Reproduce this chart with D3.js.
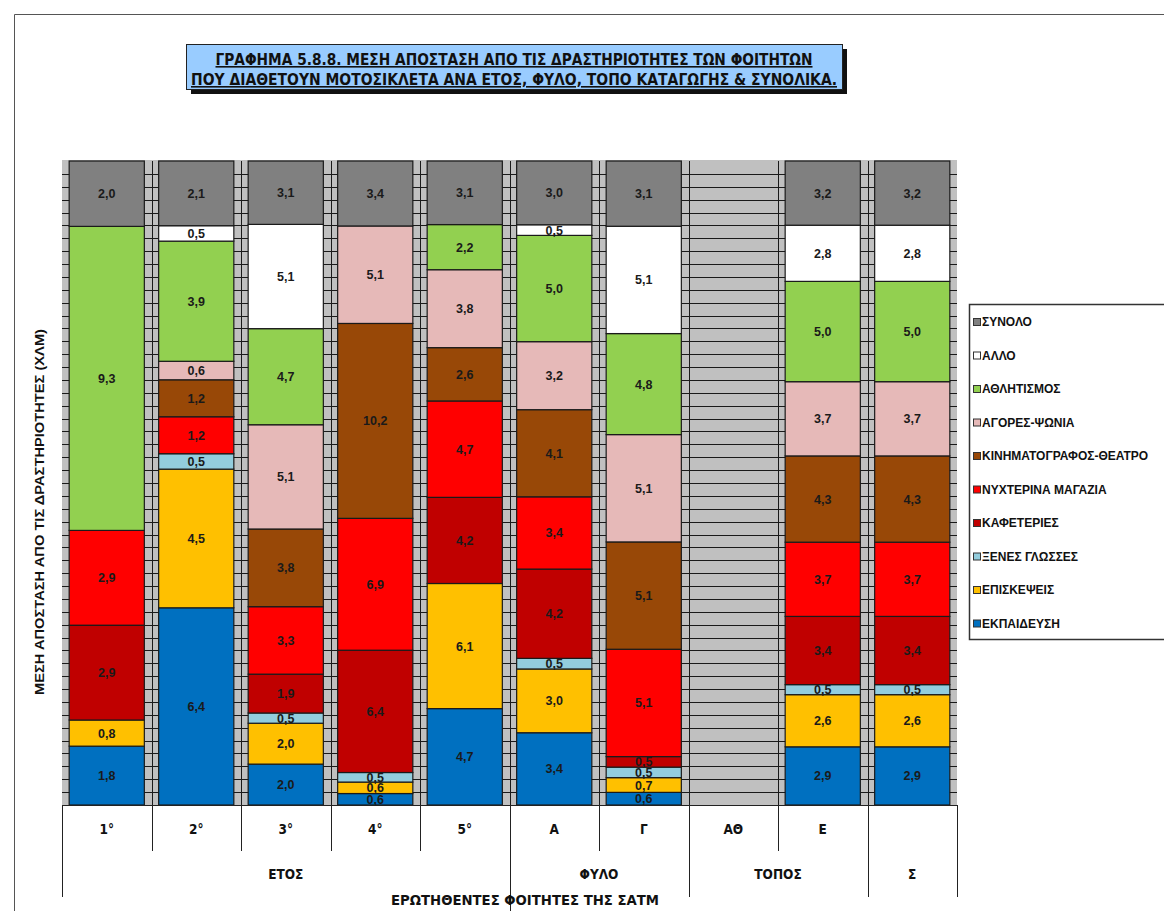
<!DOCTYPE html>
<html>
<head>
<meta charset="utf-8">
<script src="https://cdn.jsdelivr.net/npm/d3@7/dist/d3.min.js"></script>
<style>
  body { margin: 0; background: #fff; }
  svg { display: block; }
  text { font-family: "Liberation Sans", Arial, sans-serif; }
  .narrow { font-family: "Liberation Sans Narrow", "DejaVu Sans Condensed", "Liberation Sans", sans-serif; }
</style>
</head>
<body>
<svg id="chart" width="1164" height="911"></svg>
<script>
// categories along the x axis (the last one, the total, has no first-row label)
var categories = ["1°", "2°", "3°", "4°", "5°", "Α", "Γ", "ΑΘ", "Ε", ""]
var groupNames = ["ΕΤΟΣ", "ΦΥΛΟ", "ΤΟΠΟΣ", "Σ"]
var groupSizes = [5, 2, 2, 1]

// series, bottom of the stack first
var seriesNames = ["ΕΚΠΑΙΔΕΥΣΗ", "ΕΠΙΣΚΕΨΕΙΣ", "ΞΕΝΕΣ ΓΛΩΣΣΕΣ", "ΚΑΦΕΤΕΡΙΕΣ",
  "ΝΥΧΤΕΡΙΝΑ ΜΑΓΑΖΙΑ", "ΚΙΝΗΜΑΤΟΓΡΑΦΟΣ-ΘΕΑΤΡΟ", "ΑΓΟΡΕΣ-ΨΩΝΙΑ", "ΑΘΛΗΤΙΣΜΟΣ", "ΑΛΛΟ", "ΣΥΝΟΛΟ"]
var seriesColors = ["#0070C0", "#FFC000", "#93CDDD", "#C00000",
  "#FF0000", "#984807", "#E6B9B8", "#92D050", "#FFFFFF", "#808080"]

// mean distance (km), one value per category
var ekpaideusi     = [1.8, 6.4, 2.0, 0.6, 4.7, 3.4, 0.6, 0, 2.9, 2.9]
var episkepseis    = [0.8, 4.5, 2.0, 0.6, 6.1, 3.0, 0.7, 0, 2.6, 2.6]
var xenesGlosses   = [0, 0.5, 0.5, 0.5, 0, 0.5, 0.5, 0, 0.5, 0.5]
var kafeteries     = [2.9, 0, 1.9, 6.4, 4.2, 4.2, 0.5, 0, 3.4, 3.4]
var nyxterina      = [2.9, 1.2, 3.3, 6.9, 4.7, 3.4, 5.1, 0, 3.7, 3.7]
var kinimatografos = [0, 1.2, 3.8, 10.2, 2.6, 4.1, 5.1, 0, 4.3, 4.3]
var agores         = [0, 0.6, 5.1, 5.1, 3.8, 3.2, 5.1, 0, 3.7, 3.7]
var athlitismos    = [9.3, 3.9, 4.7, 0, 2.2, 5.0, 4.8, 0, 5.0, 5.0]
var allo           = [0, 0.5, 5.1, 0, 0, 0.5, 5.1, 0, 2.8, 2.8]
var synolo         = [2.0, 2.1, 3.1, 3.4, 3.1, 3.0, 3.1, 0, 3.2, 3.2]

var seriesValues = [ekpaideusi, episkepseis, xenesGlosses, kafeteries, nyxterina,
  kinimatografos, agores, athlitismos, allo, synolo]

var titleLines = ["ΓΡΑΦΗΜΑ 5.8.8. ΜΕΣΗ ΑΠΟΣΤΑΣΗ  ΑΠΟ ΤΙΣ ΔΡΑΣΤΗΡΙΟΤΗΤΕΣ  ΤΩΝ ΦΟΙΤΗΤΩΝ",
  "ΠΟΥ ΔΙΑΘΕΤΟΥΝ  ΜΟΤΟΣΙΚΛΕΤΑ  ΑΝΑ ΕΤΟΣ, ΦΥΛΟ, ΤΟΠΟ ΚΑΤΑΓΩΓΗΣ & ΣΥΝΟΛΙΚΑ."]
var yTitle = "ΜΕΣΗ ΑΠΟΣΤΑΣΗ ΑΠΟ ΤΙΣ ΔΡΑΣΤΗΡΙΟΤΗΤΕΣ (ΧΛΜ)"
var xTitle = "ΕΡΩΤΗΘΕΝΤΕΣ ΦΟΙΤΗΤΕΣ ΤΗΣ ΣΑΤΜ"

var Plot = { left: 62, right: 957, top: 161, bottom: 805 }

var svg = d3.select("#chart")

// outer frame (only top and left edges show in the picture)
svg.append("path")
  .attr("d", "M14.5,911 V14.5 H1164")
  .attr("fill", "none")
  .attr("stroke", "#555")
  .attr("stroke-width", 1)

// rows for the stack
var rows = categories.map(function(c, i) {
  var row = { idx: i }
  seriesNames.forEach(function(s, k) { row[s] = seriesValues[k][i] })
  return row
})

var stack = d3.stack()
  .keys(seriesNames)
  .offset(d3.stackOffsetExpand)
var stacked = stack(rows)

var xScale = d3.scaleBand()
  .domain(d3.range(categories.length))
  .range([Plot.left, Plot.right])
  .paddingInner(0.16)
  .paddingOuter(0.08)

var yScale = d3.scaleLinear()
  .domain([0, 1])
  .range([Plot.bottom, Plot.top])

var step = xScale.step()
var boundary = function(k) { return Plot.left + k * step }

// plot background
svg.append("rect")
  .attr("x", Plot.left)
  .attr("y", Plot.top - 1)
  .attr("width", Plot.right - Plot.left)
  .attr("height", Plot.bottom - Plot.top + 1)
  .attr("fill", "#C0C0C0")

// horizontal grid, every 2%
svg.append("g")
  .attr("id", "y-grid")
  .selectAll("line")
  .data(d3.range(0.02, 1, 0.02))
  .enter()
  .append("line")
  .attr("x1", Plot.left)
  .attr("x2", Plot.right)
  .attr("y1", function(d) { return Math.round(yScale(d)) + 0.5 })
  .attr("y2", function(d) { return Math.round(yScale(d)) + 0.5 })
  .attr("stroke", "#1a1a1a")
  .attr("stroke-width", 1)

// vertical grid at category boundaries
svg.append("g")
  .attr("id", "x-grid")
  .selectAll("line")
  .data(d3.range(1, categories.length))
  .enter()
  .append("line")
  .attr("x1", function(k) { return Math.round(boundary(k)) + 0.5 })
  .attr("x2", function(k) { return Math.round(boundary(k)) + 0.5 })
  .attr("y1", Plot.top)
  .attr("y2", Plot.bottom)
  .attr("stroke", "#1a1a1a")
  .attr("stroke-width", 1)

// stacked bars
var layers = svg.append("g")
  .attr("id", "bars")
  .selectAll("g")
  .data(stacked)
  .enter()
  .append("g")
  .attr("fill", function(d, i) { return seriesColors[i] })

layers.selectAll("rect")
  .data(function(d) { return d.filter(function(p) { return p[1] - p[0] > 0 }) })
  .enter()
  .append("rect")
  .attr("x", function(p) { return xScale(p.data.idx) })
  .attr("width", xScale.bandwidth())
  .attr("y", function(p) { return yScale(p[1]) })
  .attr("height", function(p) { return yScale(p[0]) - yScale(p[1]) })
  .attr("stroke", "#1a1a1a")
  .attr("stroke-width", 1.2)

// value labels (the thin 0,5-0,7 slices overlap in the original too)
var fmt = function(v) { return d3.format(".1f")(v).replace(".", ",") }
svg.append("g")
  .attr("id", "labels")
  .selectAll("g")
  .data(stacked)
  .enter()
  .append("g")
  .selectAll("text")
  .data(function(d) {
    var key = d.key
    return d.filter(function(p) { return p[1] - p[0] > 0 })
      .map(function(p) { return { p: p, v: p.data[key] } })
  })
  .enter()
  .append("text")
  .attr("x", function(d) { return xScale(d.p.data.idx) + xScale.bandwidth() / 2 })
  .attr("y", function(d) { return (yScale(d.p[0]) + yScale(d.p[1])) / 2 })
  .attr("dy", "0.36em")
  .attr("text-anchor", "middle")
  .attr("font-size", 12.5)
  .attr("font-weight", "bold")
  .attr("fill", "#1a1a1a")
  .text(function(d) { return fmt(d.v) })

// multi level category axis
var axis = svg.append("g").attr("id", "x-axis")
axis.append("line")
  .attr("x1", Plot.left).attr("x2", Plot.right)
  .attr("y1", Plot.bottom + 0.5).attr("y2", Plot.bottom + 0.5)
  .attr("stroke", "#222")

var groupEdges = [0]
groupSizes.forEach(function(n, i) { groupEdges.push(groupEdges[i] + n) })

axis.selectAll("line.tick")
  .data(d3.range(0, categories.length + 1))
  .enter()
  .append("line")
  .attr("class", "tick")
  .attr("x1", function(k) { return Math.round(boundary(k)) + 0.5 })
  .attr("x2", function(k) { return Math.round(boundary(k)) + 0.5 })
  .attr("y1", Plot.bottom)
  .attr("y2", function(k) {
    if (k === groupEdges[1]) { return 911 }
    return groupEdges.indexOf(k) >= 0 ? 897 : 851
  })
  .attr("stroke", "#222")
  .attr("stroke-width", 1)

axis.selectAll("text.cat")
  .data(categories)
  .enter()
  .append("text")
  .attr("class", "cat narrow")
  .attr("x", function(d, i) { return xScale(i) + xScale.bandwidth() / 2 })
  .attr("y", 834)
  .attr("text-anchor", "middle")
  .attr("font-size", 13.5)
  .attr("font-weight", "bold")
  .attr("fill", "#111")
  .text(function(d) { return d })

axis.selectAll("text.group")
  .data(groupNames)
  .enter()
  .append("text")
  .attr("class", "group narrow")
  .attr("x", function(d, i) { return (boundary(groupEdges[i]) + boundary(groupEdges[i + 1])) / 2 })
  .attr("y", 879)
  .attr("text-anchor", "middle")
  .attr("font-size", 13.5)
  .attr("font-weight", "bold")
  .attr("fill", "#111")
  .text(function(d) { return d })

svg.append("text")
  .attr("class", "narrow")
  .attr("x", 525)
  .attr("y", 905)
  .attr("text-anchor", "middle")
  .attr("font-size", 14)
  .attr("font-weight", "bold")
  .attr("fill", "#111")
  .attr("textLength", 268)
  .attr("lengthAdjust", "spacingAndGlyphs")
  .text(xTitle)

// y axis title
svg.append("text")
  .attr("transform", "translate(44,512) rotate(-90)")
  .attr("text-anchor", "middle")
  .attr("font-size", 13)
  .attr("font-weight", "bold")
  .attr("fill", "#111")
  .attr("textLength", 366)
  .attr("lengthAdjust", "spacingAndGlyphs")
  .text(yTitle)

// title box with shadow
var title = svg.append("g").attr("id", "title")
title.append("rect")
  .attr("x", 191).attr("y", 49).attr("width", 656).attr("height", 45)
  .attr("fill", "#111")
title.append("rect")
  .attr("x", 186.5).attr("y", 44.5).attr("width", 656).attr("height", 45)
  .attr("fill", "#99CCFF")
  .attr("stroke", "#222")
  .attr("stroke-width", 1)
title.selectAll("text")
  .data(titleLines)
  .enter()
  .append("text")
  .attr("class", "narrow")
  .attr("x", 514)
  .attr("y", function(d, i) { return 65 + i * 20 })
  .attr("text-anchor", "middle")
  .attr("font-size", 16)
  .attr("font-weight", "bold")
  .attr("fill", "#111")
  .attr("text-decoration", "underline")
  .attr("textLength", function(d, i) { return i === 0 ? 597 : 646 })
  .attr("lengthAdjust", "spacingAndGlyphs")
  .text(function(d) { return d })

// legend, top entry is the top of the stack
var legend = svg.append("g").attr("id", "legend")
legend.append("rect")
  .attr("x", 969.5).attr("y", 304.5).attr("width", 220).attr("height", 335)
  .attr("fill", "#fff")
  .attr("stroke", "#333")
  .attr("stroke-width", 1.5)

var legendOrder = d3.range(seriesNames.length).reverse()
var items = legend.selectAll("g.item")
  .data(legendOrder)
  .enter()
  .append("g")
  .attr("class", "item")
  .attr("transform", function(k, i) { return "translate(973," + (322 + i * 33.5) + ")" })

items.append("rect")
  .attr("x", 0.5).attr("y", -3.5).attr("width", 7).attr("height", 7)
  .attr("fill", function(k) { return seriesColors[k] })
  .attr("stroke", "#333")
  .attr("stroke-width", 1)

items.append("text")
  .attr("x", 9)
  .attr("dy", "0.36em")
  .attr("font-size", 12)
  .attr("font-weight", "bold")
  .attr("fill", "#111")
  .text(function(k) { return seriesNames[k] })
</script>
</body>
</html>
